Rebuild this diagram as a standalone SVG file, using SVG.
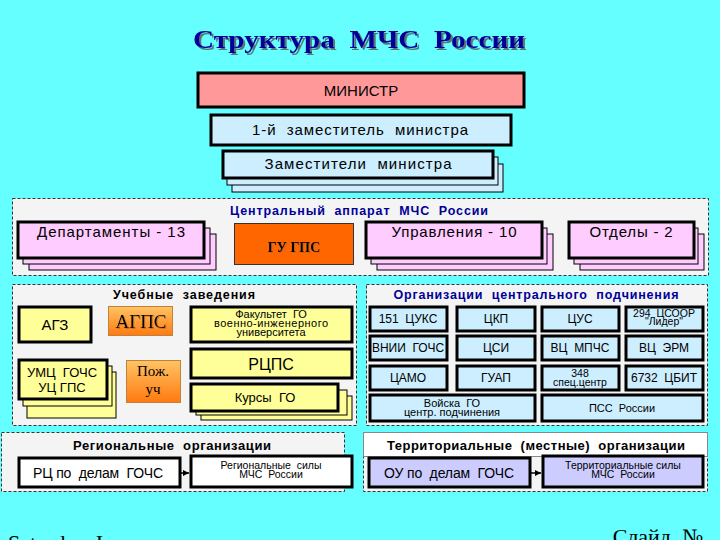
<svg xmlns="http://www.w3.org/2000/svg" width="720" height="540" viewBox="0 0 720 540">
<defs>
<style>
text{font-family:"Liberation Sans",Arial,sans-serif;white-space:pre;fill:#000}
.serif{font-family:"Liberation Serif","Times New Roman",serif}
.c{text-anchor:middle}
.b{font-weight:bold}
.blue{fill:#000099}
.cont{fill:#F4F4F4;stroke:#333;stroke-width:1;stroke-dasharray:3 2}
.thick{stroke:#000;stroke-width:3}
.thin{stroke:#000;stroke-width:1}
.pink{fill:#FFCCFF}
.lb{fill:#CCEEFF}
.yel{fill:#FFFF99}
.lav{fill:#CCCCFF}
.wh{fill:#FFFFFF}
.conn{stroke:#000;stroke-width:1.5;fill:none}
</style>
<filter id="sh" x="-10%" y="-20%" width="120%" height="150%">
<feDropShadow dx="2" dy="2" stdDeviation="0.3" flood-color="#555" flood-opacity="0.8"/>
</filter>
<filter id="sh1" x="-10%" y="-20%" width="130%" height="150%">
<feDropShadow dx="1" dy="1" stdDeviation="0.2" flood-color="#AA6633" flood-opacity="0.7"/>
</filter>
<linearGradient id="org" x1="0" y1="0" x2="0" y2="1">
<stop offset="0" stop-color="#FFC464"/>
<stop offset="1" stop-color="#FF7A10"/>
</linearGradient>
<marker id="arr" viewBox="0 0 6 6" refX="6" refY="3" markerWidth="6" markerHeight="6" orient="auto" markerUnits="userSpaceOnUse">
<path d="M0,0 L6,3 L0,6 z" fill="#000"/>
</marker>
</defs>
<rect x="0" y="0" width="720" height="540" fill="#66FFFF"/>

<g id="title">
<text class="serif b c blue" x="359" y="48" font-size="26" textLength="332" lengthAdjust="spacingAndGlyphs" filter="url(#sh)">Структура  МЧС  России</text>
</g>

<g id="minister">
<rect x="198" y="73" width="326" height="34" fill="#FF9999" class="thick"/>
<text class="c" x="361" y="96" font-size="15">МИНИСТР</text>
</g>
<g id="first-deputy">
<rect x="211" y="115" width="300" height="30" class="lb thick"/>
<text class="c" x="360" y="135" font-size="15" textLength="216">1-й  заместитель  министра</text>
</g>
<g id="deputies">
<rect x="232" y="164" width="271" height="28" class="lb thin"/>
<rect x="227" y="157" width="271" height="28" class="lb thin"/>
<rect x="223" y="151" width="270" height="27" class="lb thick"/>
<text class="c" x="358" y="169" font-size="15" textLength="187">Заместители  министра</text>
</g>

<g id="central-apparatus">
<rect x="12.5" y="198.5" width="696" height="77" class="cont"/>
<text class="c b blue" x="359" y="215" font-size="12.5" textLength="258">Центральный  аппарат  МЧС  России</text>
</g>
<g id="departments">
<rect x="29" y="234" width="187" height="36" class="pink thin"/>
<rect x="23" y="228" width="187" height="36" class="pink thin"/>
<rect x="18" y="222" width="186" height="36" class="pink thick"/>
<text class="c" x="111" y="237" font-size="15" textLength="148">Департаменты - 13</text>
</g>
<g id="gu-gps">
<rect x="234.5" y="223.5" width="119" height="41" fill="#FF6600" stroke="#333" stroke-width="1"/>
<text class="serif b c" x="294" y="252" font-size="14" fill="#222" filter="url(#sh1)">ГУ ГПС</text>
</g>
<g id="directorates">
<rect x="377" y="234" width="176" height="36" class="pink thin"/>
<rect x="371" y="228" width="176" height="36" class="pink thin"/>
<rect x="366" y="222" width="176" height="36" class="pink thick"/>
<text class="c" x="454" y="237" font-size="15" textLength="125">Управления - 10</text>
</g>
<g id="divisions">
<rect x="580" y="234" width="124" height="36" class="pink thin"/>
<rect x="574" y="228" width="124" height="36" class="pink thin"/>
<rect x="569" y="222" width="125" height="36" class="pink thick"/>
<text class="c" x="631" y="237" font-size="15" textLength="83">Отделы - 2</text>
</g>

<g id="education">
<rect x="12.5" y="284.5" width="344" height="141" class="cont"/>
<text class="c b" x="184" y="299" font-size="12.5" textLength="142">Учебные  заведения</text>
</g>
<g id="agz">
<rect x="19" y="307" width="72" height="35" class="yel thick"/>
<text class="c" x="55" y="330" font-size="15">АГЗ</text>
</g>
<g id="agps">
<rect x="108.5" y="306.5" width="64" height="29" fill="url(#org)" stroke="#C08040" stroke-width="1"/>
<text class="serif c" x="141" y="328" font-size="19" fill="#2A0A00" filter="url(#sh1)">АГПС</text>
</g>
<g id="faculty">
<rect x="191" y="307" width="161" height="35" class="yel thick"/>
<text class="c" x="271" y="318" font-size="11">Факультет  ГО</text>
<text class="c" x="271" y="327" font-size="11" textLength="114">военно-инженерного</text>
<text class="c" x="271" y="336" font-size="11">университета</text>
</g>
<g id="umc">
<rect x="27" y="372" width="89" height="46" class="yel thin"/>
<rect x="23" y="366" width="89" height="40" class="yel thin"/>
<rect x="19" y="360" width="88" height="39" class="yel thick"/>
<text class="c" x="62" y="377" font-size="13">УМЦ  ГОЧС</text>
<text class="c" x="62" y="392" font-size="13">УЦ ГПС</text>
</g>
<g id="pozh">
<rect x="126.5" y="360.5" width="54" height="42" fill="url(#org)" stroke="#C08040" stroke-width="1"/>
<text class="serif c" x="153" y="376" font-size="15" fill="#2A0A00">Пож.</text>
<text class="serif c" x="153" y="394" font-size="15" fill="#2A0A00">уч</text>
</g>
<g id="rcps">
<rect x="191" y="349" width="161" height="29" class="yel thick"/>
<text class="c" x="271" y="370" font-size="16">РЦПС</text>
</g>
<g id="kursy">
<rect x="201" y="396" width="151" height="24" class="yel thin"/>
<rect x="196" y="390" width="151" height="25" class="yel thin"/>
<rect x="191" y="384" width="147" height="27" class="yel thick"/>
<text class="c" x="265" y="402" font-size="13">Курсы  ГО</text>
</g>

<g id="central-subordination">
<rect x="366.5" y="284.5" width="341" height="141" class="cont"/>
<text class="c b blue" x="536" y="299" font-size="12.5" textLength="285">Организации  центрального  подчинения</text>
</g>
<g id="cuks"><rect x="370" y="307" width="77" height="24" class="lb thick"/><text class="c" x="408" y="323" font-size="12">151  ЦУКС</text></g>
<g id="ckp"><rect x="457" y="307" width="78" height="24" class="lb thick"/><text class="c" x="496" y="323" font-size="12">ЦКП</text></g>
<g id="cus"><rect x="542" y="307" width="77" height="24" class="lb thick"/><text class="c" x="580" y="323" font-size="12">ЦУС</text></g>
<g id="csoor"><rect x="626" y="307" width="77" height="24" class="lb thick"/><text class="c" x="664" y="317" font-size="10.5">294  ЦСООР</text><text class="c" x="664" y="325" font-size="10.5">"Лидер"</text></g>

<g id="vnii"><rect x="370" y="336" width="77" height="24" class="lb thick"/><text class="c" x="408" y="352" font-size="12">ВНИИ  ГОЧС</text></g>
<g id="csi"><rect x="457" y="336" width="78" height="24" class="lb thick"/><text class="c" x="496" y="352" font-size="12">ЦСИ</text></g>
<g id="vc-mpchs"><rect x="542" y="336" width="77" height="24" class="lb thick"/><text class="c" x="580" y="352" font-size="12">ВЦ  МПЧС</text></g>
<g id="vc-erm"><rect x="626" y="336" width="77" height="24" class="lb thick"/><text class="c" x="664" y="352" font-size="12">ВЦ  ЭРМ</text></g>

<g id="camo"><rect x="370" y="366" width="77" height="24" class="lb thick"/><text class="c" x="408" y="382" font-size="12">ЦАМО</text></g>
<g id="guap"><rect x="457" y="366" width="78" height="24" class="lb thick"/><text class="c" x="496" y="382" font-size="12">ГУАП</text></g>
<g id="spec"><rect x="542" y="366" width="77" height="24" class="lb thick"/><text class="c" x="580" y="377" font-size="10.5">348</text><text class="c" x="580" y="386" font-size="10.5">спец.центр</text></g>
<g id="cbit"><rect x="626" y="366" width="77" height="24" class="lb thick"/><text class="c" x="664" y="382" font-size="12">6732  ЦБИТ</text></g>

<g id="voiska"><rect x="370" y="395" width="165" height="26" class="lb thick"/><text class="c" x="452" y="407" font-size="11">Войска  ГО</text><text class="c" x="452" y="416" font-size="11">центр. подчинения</text></g>
<g id="pss"><rect x="542" y="395" width="161" height="26" class="lb thick"/><text class="c" x="622" y="412" font-size="11">ПСС  России</text></g>

<g id="regional">
<rect x="1.5" y="432.5" width="343" height="59" class="cont"/>
<text class="c b" x="172" y="450" font-size="13" textLength="198">Региональные  организации</text>
</g>
<g id="rc">
<rect x="19" y="458" width="161" height="29" class="wh thick"/>
<text class="c" x="98" y="478" font-size="14" textLength="130">РЦ по  делам  ГОЧС</text>
</g>
<g id="reg-forces">
<rect x="191" y="456" width="161" height="31" class="wh thick"/>
<text class="c" x="271" y="469" font-size="10.5">Региональные  силы</text>
<text class="c" x="271" y="478" font-size="10.5">МЧС  России</text>
</g>

<g id="territorial">
<rect x="363.5" y="432.5" width="344" height="59" class="cont"/>
<rect x="363.5" y="432.5" width="344" height="24" fill="#FFFFFF" stroke="#888" stroke-width="1"/>
<text class="c b" x="536" y="450" font-size="13" textLength="298">Территориальные  (местные)  организации</text>
</g>
<g id="ou">
<rect x="369" y="458" width="161" height="29" class="lav thick"/>
<text class="c" x="449" y="478" font-size="14" textLength="130">ОУ по  делам  ГОЧС</text>
</g>
<g id="terr-forces">
<rect x="543" y="456" width="160" height="31" class="lav thick"/>
<text class="c" x="623" y="469" font-size="10.5">Территориальные силы</text>
<text class="c" x="623" y="478" font-size="10.5">МЧС  России</text>
</g>

<g id="connectors">
<line x1="181" y1="473" x2="189" y2="473" class="conn" marker-end="url(#arr)"/>
<line x1="531" y1="473" x2="541" y2="473" class="conn" marker-end="url(#arr)"/>
</g>

<g id="footer">
<text class="serif" x="8" y="550" font-size="22">Saturday, I</text>
<text class="serif" x="703" y="544" font-size="22" text-anchor="end">Слайд  №</text>
</g>
</svg>
